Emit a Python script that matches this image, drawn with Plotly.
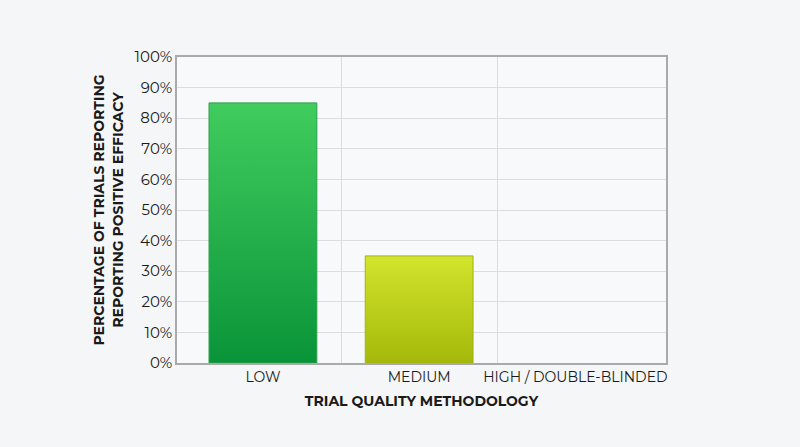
import plotly.graph_objects as go

categories = ["LOW", "MEDIUM", "HIGH / DOUBLE-BLINDED"]
values = [85, 35, 0]
top_colors = ["#41cc5e", "#d3e42c"]
bottom_colors = ["#0a9439", "#a4b90a"]
edge_colors = ["#2a9e48", "#a3b21c"]
y_ticks = list(range(0, 101, 10))
y_labels = [f"{t}%" for t in y_ticks]

BAR_W = 0.69
FONT = "Montserrat, Open Sans, sans-serif"

fig = go.Figure()

# bars as filled shapes so they can carry a vertical gradient
for i, (cat, v) in enumerate(zip(categories, values)):
    if v <= 0:
        continue
    x0, x1 = i - BAR_W / 2, i + BAR_W / 2
    fig.add_trace(go.Scatter(
        x=[x0, x0, x1, x1, x0],
        y=[0, v, v, 0, 0],
        mode="lines",
        fill="toself",
        fillgradient=dict(type="vertical",
                          colorscale=[[0, bottom_colors[i]], [1, top_colors[i]]]),
        line=dict(color=edge_colors[i], width=1),
        name=cat,
        hoverinfo="skip",
        showlegend=False,
    ))

fig.update_layout(
    width=800, height=447,
    margin=dict(l=177, r=134, t=57, b=84),
    paper_bgcolor="#f4f6f7",
    plot_bgcolor="#f8f9fa",
    font=dict(family=FONT, color="#1a1a1a"),
    showlegend=False,
    xaxis=dict(
        range=[-0.55, 2.58],
        tickmode="array",
        tickvals=list(range(len(categories))),
        ticktext=categories,
        tickfont=dict(size=14),
        showgrid=False,
        zeroline=False,
        showline=True, linecolor="#aaaaaa", linewidth=1.5, mirror=True,
        ticks="", ticklen=0,
        minor=dict(tickvals=[0.5, 1.5], showgrid=True, gridcolor="#dcdcdc", gridwidth=1, ticks=""),
        title=dict(text="<b>TRIAL QUALITY METHODOLOGY</b>", font=dict(size=14), standoff=12),
    ),
    yaxis=dict(
        range=[0, 100],
        tickmode="array",
        tickvals=y_ticks,
        ticktext=y_labels,
        tickfont=dict(size=15),
        showgrid=True, gridcolor="#dcdcdc", gridwidth=1,
        zeroline=False,
        showline=True, linecolor="#aaaaaa", linewidth=1.5, mirror=True,
        ticks="", ticklen=0,
        title=dict(text="<b>PERCENTAGE OF TRIALS REPORTING<br>REPORTING POSITIVE EFFICACY</b>",
                   font=dict(size=14), standoff=8),
    ),
)

# drop the browser's default body margin so the figure fills the window
fig.write_html("out.html", config={"displayModeBar": False},
               post_script="document.body.style.margin='0';")
